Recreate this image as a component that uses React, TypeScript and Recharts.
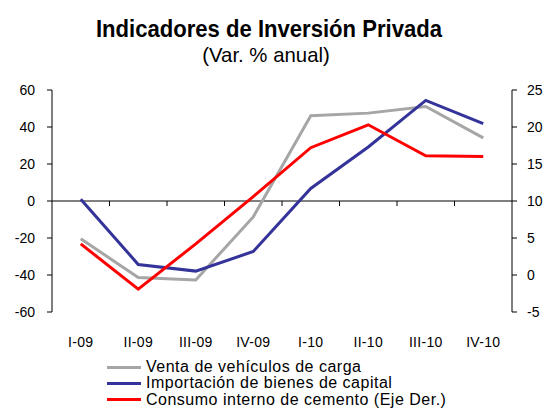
import { LineChart, Line, XAxis, YAxis, ReferenceLine } from "recharts";

const quarters = ["I-09", "II-09", "III-09", "IV-09", "I-10", "II-10", "III-10", "IV-10"];
const ventaCarga = [-20.4, -41.4, -42.7, -8.6, 46.1, 47.5, 51.1, 34.1];
const importacionCapital = [1.0, -34.3, -37.9, -27.3, 6.8, 29.2, 54.4, 41.8];
const consumoCemento = [4.2, -1.9, 4.2, 10.6, 17.2, 20.3, 16.1, 16.0];

const leftTicks = [-60, -40, -20, 0, 20, 40, 60];
const rightTicks = [-5, 0, 5, 10, 15, 20, 25];

const series = [
  { key: "venta", name: "Venta de vehículos de carga", color: "#A6A6A6", axis: "left" },
  { key: "importacion", name: "Importación de bienes de capital", color: "#333399", axis: "left" },
  { key: "cemento", name: "Consumo interno de cemento (Eje Der.)", color: "#FF0000", axis: "right" },
];

const data = quarters.map((q, i) => ({
  q,
  venta: ventaCarga[i],
  importacion: importacionCapital[i],
  cemento: consumoCemento[i],
}));

const tickFont = { fontSize: 14, fill: "#000", fontFamily: "'Liberation Sans', Arial, sans-serif" };

// zero line with small tick marks at the category boundaries
const ZeroAxis = (props: any) => {
  const { x1, x2, y1 } = props;
  const left = Math.min(x1, x2);
  const right = Math.max(x1, x2);
  const step = (right - left) / quarters.length;
  const marks = [];
  for (let i = 1; i < quarters.length; i++) {
    const x = left + i * step;
    marks.push(<line key={i} x1={x} x2={x} y1={y1} y2={y1 + 5} stroke="#000" strokeWidth={1} />);
  }
  return (
    <g>
      <line x1={left} x2={right} y1={y1} y2={y1} stroke="#000" strokeWidth={1} />
      {marks}
    </g>
  );
};

export default function App() {
  return (
    <div style={{ position: "relative", width: 556, height: 416, margin: -8, background: "#fff" }}>
      <div
        style={{
          position: "absolute",
          top: 17,
          left: 0,
          width: 538,
          textAlign: "center",
          fontFamily: "'Liberation Sans Narrow', 'Arial Narrow', 'Liberation Sans', sans-serif",
          fontWeight: "bold",
          fontSize: 24,
          lineHeight: "24px",
          color: "#000",
          transform: "scaleX(0.92)",
          transformOrigin: "269px 0",
        }}
      >
        Indicadores de Inversión Privada
      </div>
      <div
        style={{
          position: "absolute",
          top: 44,
          left: 0,
          width: 532,
          textAlign: "center",
          fontFamily: "'Liberation Sans Narrow', 'Arial Narrow', 'Liberation Sans', sans-serif",
          fontSize: 21,
          lineHeight: "21px",
          color: "#000",
          transform: "scaleX(0.97)",
          transformOrigin: "266px 0",
        }}
      >
        (Var. % anual)
      </div>
      <LineChart
        width={556}
        height={416}
        data={data}
        margin={{ top: 90, right: 0, left: 0, bottom: 74 }}
      >
        <XAxis
          dataKey="q"
          xAxisId="x"
          axisLine={false}
          tickLine={false}
          tickSize={0}
          tickMargin={25}
          height={30}
          interval={0}
          padding={{ left: 28.75, right: 28.75 }}
          tick={{ ...tickFont, letterSpacing: 0.3 }}
        />
        <YAxis
          yAxisId="left"
          orientation="left"
          width={52}
          domain={[-60, 60]}
          ticks={leftTicks}
          allowDataOverflow
          axisLine={{ stroke: "#000" }}
          tickLine={{ stroke: "#000" }}
          tickSize={5}
          tickMargin={12}
          tick={tickFont}
        />
        <YAxis
          yAxisId="right"
          orientation="right"
          width={44}
          domain={[-5, 25]}
          ticks={rightTicks}
          allowDataOverflow
          axisLine={{ stroke: "#000" }}
          tickLine={{ stroke: "#000" }}
          tickSize={5}
          tickMargin={10}
          tick={tickFont}
        />
        <ReferenceLine y={0} xAxisId="x" yAxisId="left" shape={ZeroAxis} />
        {series.map((s) => (
          <Line
            key={s.key}
            xAxisId="x"
            yAxisId={s.axis}
            dataKey={s.key}
            name={s.name}
            stroke={s.color}
            strokeWidth={3}
            dot={false}
            activeDot={false}
            type="linear"
            isAnimationActive={false}
          />
        ))}
      </LineChart>
      <div
        style={{
          position: "absolute",
          left: 107,
          top: 359,
          fontFamily: "'Liberation Sans', Arial, sans-serif",
          fontSize: 16,
          letterSpacing: 0.5,
          lineHeight: "16.3px",
          color: "#000",
        }}
      >
        {series.map((s) => (
          <div key={s.key} style={{ display: "flex", alignItems: "center", height: 16.3, whiteSpace: "nowrap" }}>
            <span style={{ display: "inline-block", width: 34, height: 3, background: s.color, marginRight: 5 }} />
            <span>{s.name}</span>
          </div>
        ))}
      </div>
    </div>
  );
}
